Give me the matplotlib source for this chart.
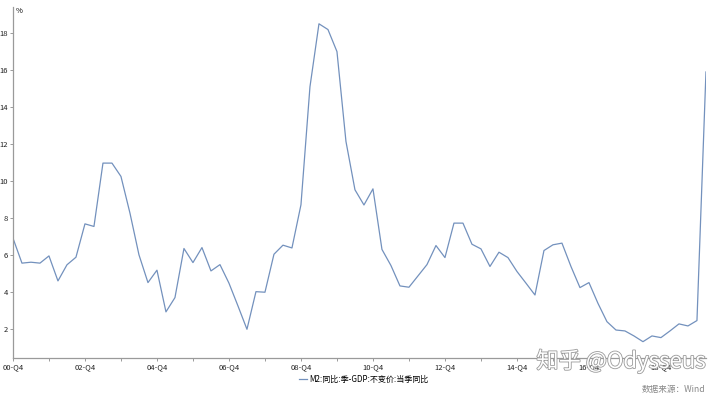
import matplotlib
matplotlib.use('Agg')
import matplotlib.pyplot as plt
import matplotlib.patheffects as pe
import numpy as np

plt.rcParams['font.family'] = ['Noto Sans CJK SC', 'DejaVu Sans']

# M2 同比 minus GDP 不变价 当季同比, quarterly from 2000-Q4
spread = [6.93, 5.58, 5.63, 5.58, 5.97, 4.62, 5.49, 5.90, 7.70, 7.56,
          10.98, 10.98, 10.26, 8.28, 6.03, 4.53, 5.20, 2.95, 3.72, 6.37,
          5.61, 6.42, 5.16, 5.50, 4.50, 3.27, 2.01, 4.04, 4.01, 6.06,
          6.55, 6.40, 8.73, 15.1, 18.5, 18.19, 17.0, 12.15, 9.54, 8.72,
          9.59, 6.32, 5.45, 4.35, 4.28, 4.89, 5.50, 6.53, 5.88, 7.74,
          7.74, 6.60, 6.35, 5.40, 6.17, 5.88, 5.13, 4.50, 3.86, 6.26,
          6.57, 6.66, 5.40, 4.26, 4.53, 3.41, 2.42, 1.97, 1.92, 1.65,
          1.34, 1.65, 1.56, 1.92, 2.30, 2.19, 2.48, 15.9]
major_labels = ['00-Q4', '02-Q4', '04-Q4', '06-Q4', '08-Q4',
                '10-Q4', '12-Q4', '14-Q4', '16-Q4', '18-Q4']
yticks = [2, 4, 6, 8, 10, 12, 14, 16, 18]

line_color = '#7391bd'
axis_color = '#9a9a9a'

fig = plt.figure(figsize=(7.2, 3.96), dpi=100)
ax = fig.add_axes([0.018, 0.096, 0.9625, 0.886])

x = np.arange(len(spread))
ax.plot(x, spread, color=line_color, lw=0.9, label='M2:同比:季-GDP:不变价:当季同比')

ax.set_xlim(0, len(spread) - 1)
ax.set_ylim(0.46, 19.4)

ax.set_xticks(np.arange(0, len(spread), 8))
ax.set_xticklabels(major_labels[:len(ax.get_xticks())], fontsize=5.5, color='#222222')
ax.set_xticks(np.arange(4, len(spread), 8), minor=True)
ax.set_yticks(yticks)
ax.set_yticklabels([str(v) for v in yticks], fontsize=5.5, color='#222222')

for side in ['top', 'right']:
    ax.spines[side].set_visible(False)
for side in ['left', 'bottom']:
    ax.spines[side].set_color(axis_color)
    ax.spines[side].set_linewidth(0.9)
ax.tick_params(axis='both', which='both', color=axis_color, length=2.5, width=0.7, pad=1)

ax.text(0.004, 1.0, '%', transform=ax.transAxes, fontsize=5.5, ha='left', va='top')

leg = fig.legend(loc='lower center', bbox_to_anchor=(0.505, 0.013), frameon=False,
                 fontsize=5.8, handlelength=1.0, handletextpad=0.2)

fig.text(0.98, 0.005, '数据来源：Wind', fontsize=6.2, color='#888888', ha='right', va='bottom')

fig.text(0.745, 0.058, '知乎 @Odysseus', fontsize=16, color='white', ha='left', va='bottom',
         path_effects=[pe.withStroke(linewidth=1.2, foreground='#9a9a9a')])

fig.savefig('out.png', dpi=100)
